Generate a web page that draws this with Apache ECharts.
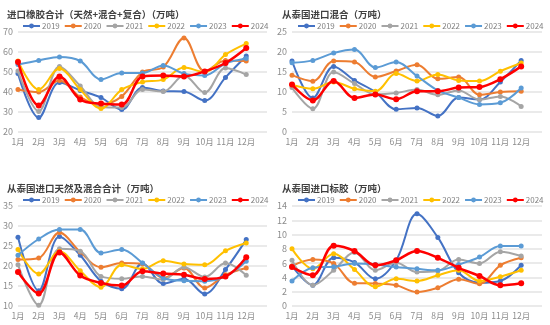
<!DOCTYPE html>
<html>
<head>
<meta charset="utf-8">
<script src="https://cdn.jsdelivr.net/npm/echarts@6/dist/echarts.min.js"></script>
<style>html,body{margin:0;padding:0;background:#fff;}#c{width:550px;height:325px;}</style>
</head>
<body>
<div id="c"></div>
<script>
const months = ['1月','2月','3月','4月','5月','6月','7月','8月','9月','10月','11月','12月'];
const years = ['2019','2020','2021','2022','2023','2024'];
const colors = ['#4472C4','#ED7D31','#A5A5A5','#FFC000','#5B9BD5','#FF0000'];
const titles = ['进口橡胶合计（天然+混合+复合）（万吨）','从泰国进口混合（万吨）','从泰国进口天然及混合合计（万吨）','从泰国进口标胶（万吨）'];

// Panel 1: 进口橡胶合计
const total2019 = [49.2,27.2,44.7,40.8,37.2,31.2,42.2,40.5,40.2,35.7,47.3,58];
const total2020 = [41.3,40,45.8,37.5,33.7,37.8,50,52.5,67,50.3,55.8,55.5];
const total2021 = [50.5,30.3,52.8,43,32.5,32.2,41.2,40.3,48.3,39.7,52,48.7];
const total2022 = [55.5,41.2,51.7,41.2,31.7,41.2,45,46.2,52.2,50,58.7,64.2];
const total2023 = [53.8,55.8,57.5,55.5,46.3,49.5,49.5,53.3,49.2,48.3,54.2,56.7];
const total2024 = [55,33.3,47.8,36.2,34.2,33.7,47.8,48.3,47.8,50.3,54.5,62];

// Panel 2: 从泰国进口混合
const mixed2019 = [17.75,8.5,16.4,12.9,10,5.7,6,4,8.6,8.1,12.5,17.9];
const mixed2020 = [14.2,12.7,17.75,17.5,13.75,15.25,16.8,13.3,13.75,9.3,10,10.2];
const mixed2021 = [11.1,5.8,15,12.1,9.4,9.75,10.6,9.3,10.4,8.1,8.9,6.4];
const mixed2022 = [11.8,10.8,12.5,10.8,10.2,14.6,12.75,14.4,12.9,12.75,15.2,17.25];
const mixed2023 = [17.3,17.9,19.75,20.6,16.1,17.5,14,10.4,8.6,6.9,7.3,11];
const mixed2024 = [11.9,7.9,12.75,8.5,9.4,8.2,10.2,10.2,11.1,11.25,13.2,16.4];

// Panel 3: 从泰国进口天然及混合合计
const natMix2019 = [27.2,13.8,27.4,22.7,16.2,14.3,20.7,15.6,16.8,13,19.1,26.6];
const natMix2020 = [21.6,22,28.4,23.5,19.7,20.75,20.5,17,19.5,14.5,17.8,19.5];
const natMix2021 = [20.3,10.2,24.3,23.7,17.4,16.8,17.4,16.6,19.7,17.25,20.75,17.7];
const natMix2022 = [24.1,18,23.7,18.8,14.7,20.3,19.25,21.3,20.5,20.3,23.8,25.75];
const natMix2023 = [22.7,26.75,29.1,29.1,23.25,24.1,20.75,17,16.3,16.2,17.4,21.2];
const natMix2024 = [18.5,13.1,23.4,17.6,15.75,15.1,18.7,18.1,17.8,16.75,17.4,22.2];

// Panel 4: 从泰国进口标胶
const tsr2019 = [5.6,2.9,6.75,6.1,3.8,6.4,12.9,9.6,4.65,3.25,3.5,5.7];
const tsr2020 = [5.6,6.5,5.95,3.2,3.15,2.9,1.95,2.55,3.75,3.1,5.7,6.75];
const tsr2021 = [6.4,2.9,5,7.5,5,6.05,4.75,4.9,6.5,5.95,7.6,7];
const tsr2022 = [8,5.2,7.3,5.1,2.7,3.8,3.5,4.3,5,3.5,4.1,5];
const tsr2023 = [3.5,5.35,5.5,5.95,5.8,5.45,5.2,5.0,5.8,6.85,8.4,8.4];
const tsr2024 = [5.45,4.3,8.45,7.7,5.7,6.4,7.7,6.75,5.35,4.2,2.9,3.2];

const panelData = [
  [total2019,total2020,total2021,total2022,total2023,total2024],
  [mixed2019,mixed2020,mixed2021,mixed2022,mixed2023,mixed2024],
  [natMix2019,natMix2020,natMix2021,natMix2022,natMix2023,natMix2024],
  [tsr2019,tsr2020,tsr2021,tsr2022,tsr2023,tsr2024]
];
const yMin = [20,0,10,0], yMax = [70,25,35,14], yStep = [10,5,5,2];

const FONT = '"Noto Sans CJK SC","Noto Sans",sans-serif';
const gx = [17,292], gy = [32,206];
const axisCats = months.concat(['']);

const option = {
  animation:false,
  backgroundColor:'#fff',
  textStyle:{fontFamily:FONT},
  color:colors,
  title:[], legend:[], grid:[], xAxis:[], yAxis:[], series:[]
};
for (let p=0;p<4;p++){
  const col=p%2, row=Math.floor(p/2);
  option.title.push({text:titles[p], left:gx[col]-10, top:gy[row]-22, padding:0,
    textStyle:{fontSize:9.5,fontWeight:'bold',color:'#404040',fontFamily:FONT}});
  option.legend.push({data:years, left:gx[col]+5, top:gy[row]-10, width:270, itemWidth:17, itemHeight:6, itemGap:4,
    textStyle:{fontSize:8,color:'#808080',fontFamily:FONT,padding:[0,0,0,-3]}, padding:0});
  option.grid.push({left:gx[col], top:gy[row], width:250, height:100, containLabel:false});
  option.xAxis.push({type:'category', gridIndex:p, data:axisCats, boundaryGap:false,
    axisLine:{show:false}, axisTick:{show:false},
    axisLabel:{interval:0, fontSize:8.5, color:'#8c8c8c', margin:6, fontFamily:FONT}});
  option.yAxis.push({type:'value', gridIndex:p, min:yMin[p], max:yMax[p], interval:yStep[p],
    axisLine:{show:false}, axisTick:{show:false},
    axisLabel:{fontSize:9, color:'#8c8c8c', margin:5, fontFamily:FONT},
    splitLine:{lineStyle:{color:'#e3e3e3', width:1.5}}});
  for (let s=0;s<6;s++){
    option.series.push({name:years[s], type:'line', xAxisIndex:p, yAxisIndex:p,
      data:panelData[p][s], smooth:0.35, symbol:'circle', symbolSize:s===5?6:5,
      z:2+s,
      lineStyle:{width:s===5?2.5:2, color:colors[s]},
      itemStyle:{color:colors[s]}});
  }
}
const chart = echarts.init(document.getElementById('c'), null, {renderer:'canvas'});
chart.setOption(option);
</script>
</body>
</html>
